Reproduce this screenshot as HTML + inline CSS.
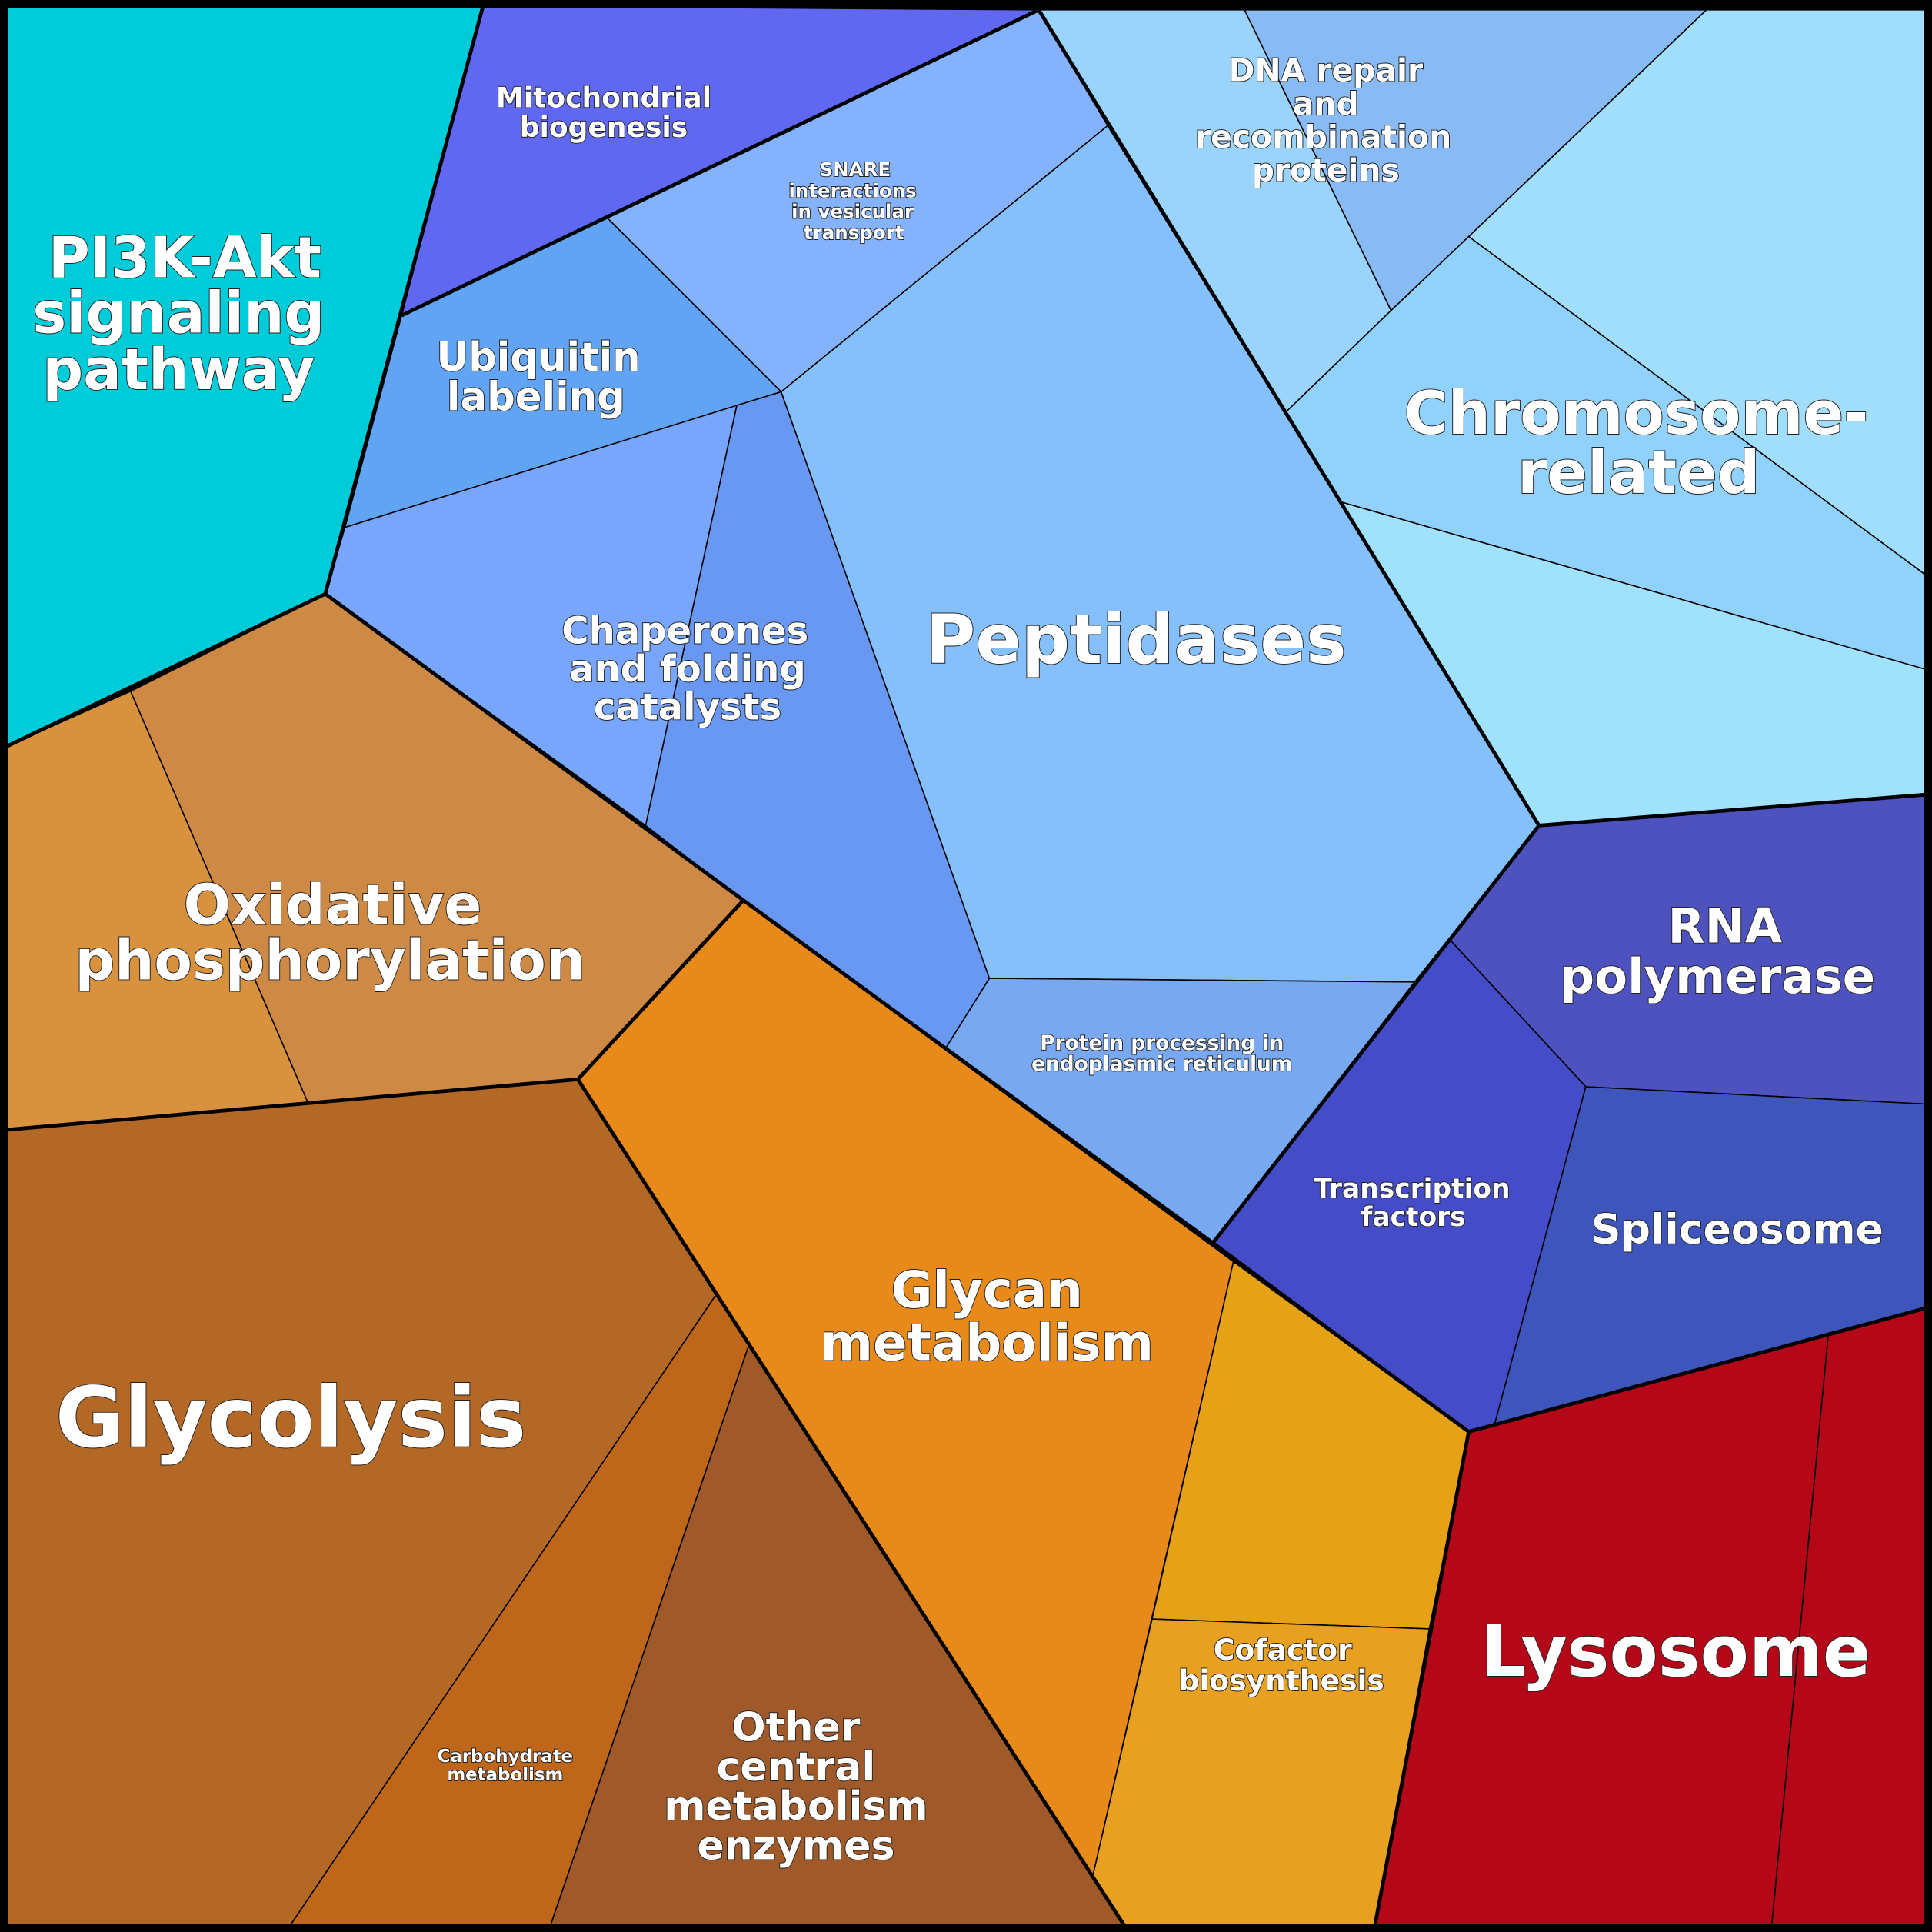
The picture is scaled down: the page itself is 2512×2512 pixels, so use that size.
<!DOCTYPE html>
<html><head><meta charset="utf-8"><style>
html,body{margin:0;padding:0;background:#000}
svg{display:block}
text{font-family:"DejaVu Sans","Liberation Sans",sans-serif;font-weight:bold;fill:#fff;text-anchor:middle;paint-order:stroke;stroke:#222;stroke-width:1.2px}
</style></head><body>
<svg width="2512" height="2512" viewBox="0 0 1568 1568" xmlns="http://www.w3.org/2000/svg">
<rect x="0" y="0" width="1568" height="1568" fill="#000"/>
<g stroke="#000" stroke-width="1" stroke-linejoin="round">
<polygon points="5,5 392,5 264,482 5,606" fill="#00CCD9"/>
<polygon points="392,5 843,8 493,177 326,256" fill="#6068F2"/>
<polygon points="493,177 843,8 899,102 634,318" fill="#84B2FC"/>
<polygon points="326,256 493,177 634,318 280,428" fill="#62A4F4"/>
<polygon points="280,428 598,329 524,670 264,482" fill="#78A6FC"/>
<polygon points="598,329 634,318 803,794 768,850 603,731 524,670" fill="#6898F2"/>
<polygon points="634,318 899,102 1249,670 1148,797 803,794" fill="#86C0FC"/>
<polygon points="803,794 1148,797 985,1008 768,850" fill="#78A8F0"/>
<polygon points="843,8 1010,8 1129,252 1043,335 899,102" fill="#9AD4FC"/>
<polygon points="1010,8 1385,8 1129,252" fill="#88BAF4"/>
<polygon points="1385,8 1562,8 1562,466 1192,192" fill="#A0DEFC"/>
<polygon points="1192,192 1562,466 1562,543 1087,407 1043,335 1129,252" fill="#90D2FC"/>
<polygon points="1087,407 1562,543 1562,645 1249,670" fill="#A0E2FC"/>
<polygon points="1249,670 1562,645 1562,896 1287,882 1177,763" fill="#4E52BE"/>
<polygon points="1177,763 1287,882 1213,1156 1192,1162 985,1008" fill="#444CC8"/>
<polygon points="1287,882 1562,896 1562,1062 1192,1162 1213,1156" fill="#3E56BC"/>
<polygon points="1192,1162 1484,1082 1438,1562 1116,1562" fill="#B40818"/>
<polygon points="1484,1082 1562,1062 1562,1562 1438,1562" fill="#B40818"/>
<polygon points="1001,1024 1192,1162 1160,1322 935,1314" fill="#E6A216"/>
<polygon points="935,1314 1160,1322 1116,1562 912,1562 887,1522" fill="#E8A020"/>
<polygon points="469,876 603,731 1001,1024 887,1522" fill="#E88A1A"/>
<polygon points="5,606 106,561 250,895 5,917" fill="#D8923E"/>
<polygon points="106,561 264,482 603,731 469,876 250,895" fill="#CE8A44"/>
<polygon points="5,917 469,876 581,1051 236,1562 5,1562" fill="#B46826"/>
<polygon points="581,1051 608,1091 447,1562 236,1562" fill="#BE661A"/>
<polygon points="608,1091 912,1562 447,1562" fill="#A05A2A"/>
</g>
<g fill="none" stroke="#000" stroke-width="3" stroke-linejoin="round">
<polyline points="392,5 264,482 5,606"/>
<polyline points="843,8 1249,670 985,1008"/>
<polyline points="264,482 1192,1162 1562,1062"/>
<polyline points="1192,1162 1116,1562"/>
<polyline points="5,917 469,876 603,731"/>
<polyline points="469,876 912,1562"/>
<polyline points="1249,670 1562,645"/>
<polyline points="326,256 843,8"/>
</g>
<rect x="3" y="3" width="1562" height="1562" fill="none" stroke="#000" stroke-width="7"/>
<text x="150" y="225" font-size="46">PI3K-Akt</text>
<text x="145" y="270" font-size="46">signaling</text>
<text x="145" y="316" font-size="46">pathway</text>
<text x="490" y="87" font-size="22.5">Mitochondrial</text>
<text x="490" y="111" font-size="22.5">biogenesis</text>
<text x="694" y="143" font-size="15.3">SNARE</text>
<text x="692" y="160" font-size="15.3">interactions</text>
<text x="692" y="177" font-size="15.3">in vesicular</text>
<text x="693" y="194" font-size="15.3">transport</text>
<text x="437" y="301" font-size="32">Ubiquitin</text>
<text x="435" y="333" font-size="32">labeling</text>
<text x="556" y="522" font-size="30">Chaperones</text>
<text x="558" y="553" font-size="30">and folding</text>
<text x="558" y="584" font-size="30">catalysts</text>
<text x="922" y="538" font-size="55">Peptidases</text>
<text x="943" y="852" font-size="16.5">Protein processing in</text>
<text x="943" y="869" font-size="16.5">endoplasmic reticulum</text>
<text x="1076" y="66" font-size="25.5">DNA repair</text>
<text x="1076" y="93" font-size="25.5">and</text>
<text x="1074" y="120" font-size="25.5">recombination</text>
<text x="1076" y="147" font-size="25.5">proteins</text>
<text x="1328" y="352" font-size="48.5">Chromosome-</text>
<text x="1330" y="400" font-size="48.5">related</text>
<text x="1400" y="765" font-size="39">RNA</text>
<text x="1394" y="806" font-size="39">polymerase</text>
<text x="1146" y="972" font-size="21.5">Transcription</text>
<text x="1147" y="995" font-size="21.5">factors</text>
<text x="1410" y="1009" font-size="33.5">Spliceosome</text>
<text x="1360" y="1360" font-size="57.5">Lysosome</text>
<text x="1041" y="1347" font-size="23.5">Cofactor</text>
<text x="1040" y="1372" font-size="23.5">biosynthesis</text>
<text x="801" y="1061" font-size="41">Glycan</text>
<text x="801" y="1104" font-size="41">metabolism</text>
<text x="270" y="750" font-size="45">Oxidative</text>
<text x="268" y="795" font-size="45">phosphorylation</text>
<text x="236" y="1174" font-size="68">Glycolysis</text>
<text x="410" y="1430" font-size="14.3">Carbohydrate</text>
<text x="410" y="1445" font-size="14.3">metabolism</text>
<text x="646" y="1413" font-size="32.5">Other</text>
<text x="646" y="1445" font-size="32.5">central</text>
<text x="646" y="1477" font-size="32.5">metabolism</text>
<text x="646" y="1509" font-size="32.5">enzymes</text>
</svg>
</body></html>
